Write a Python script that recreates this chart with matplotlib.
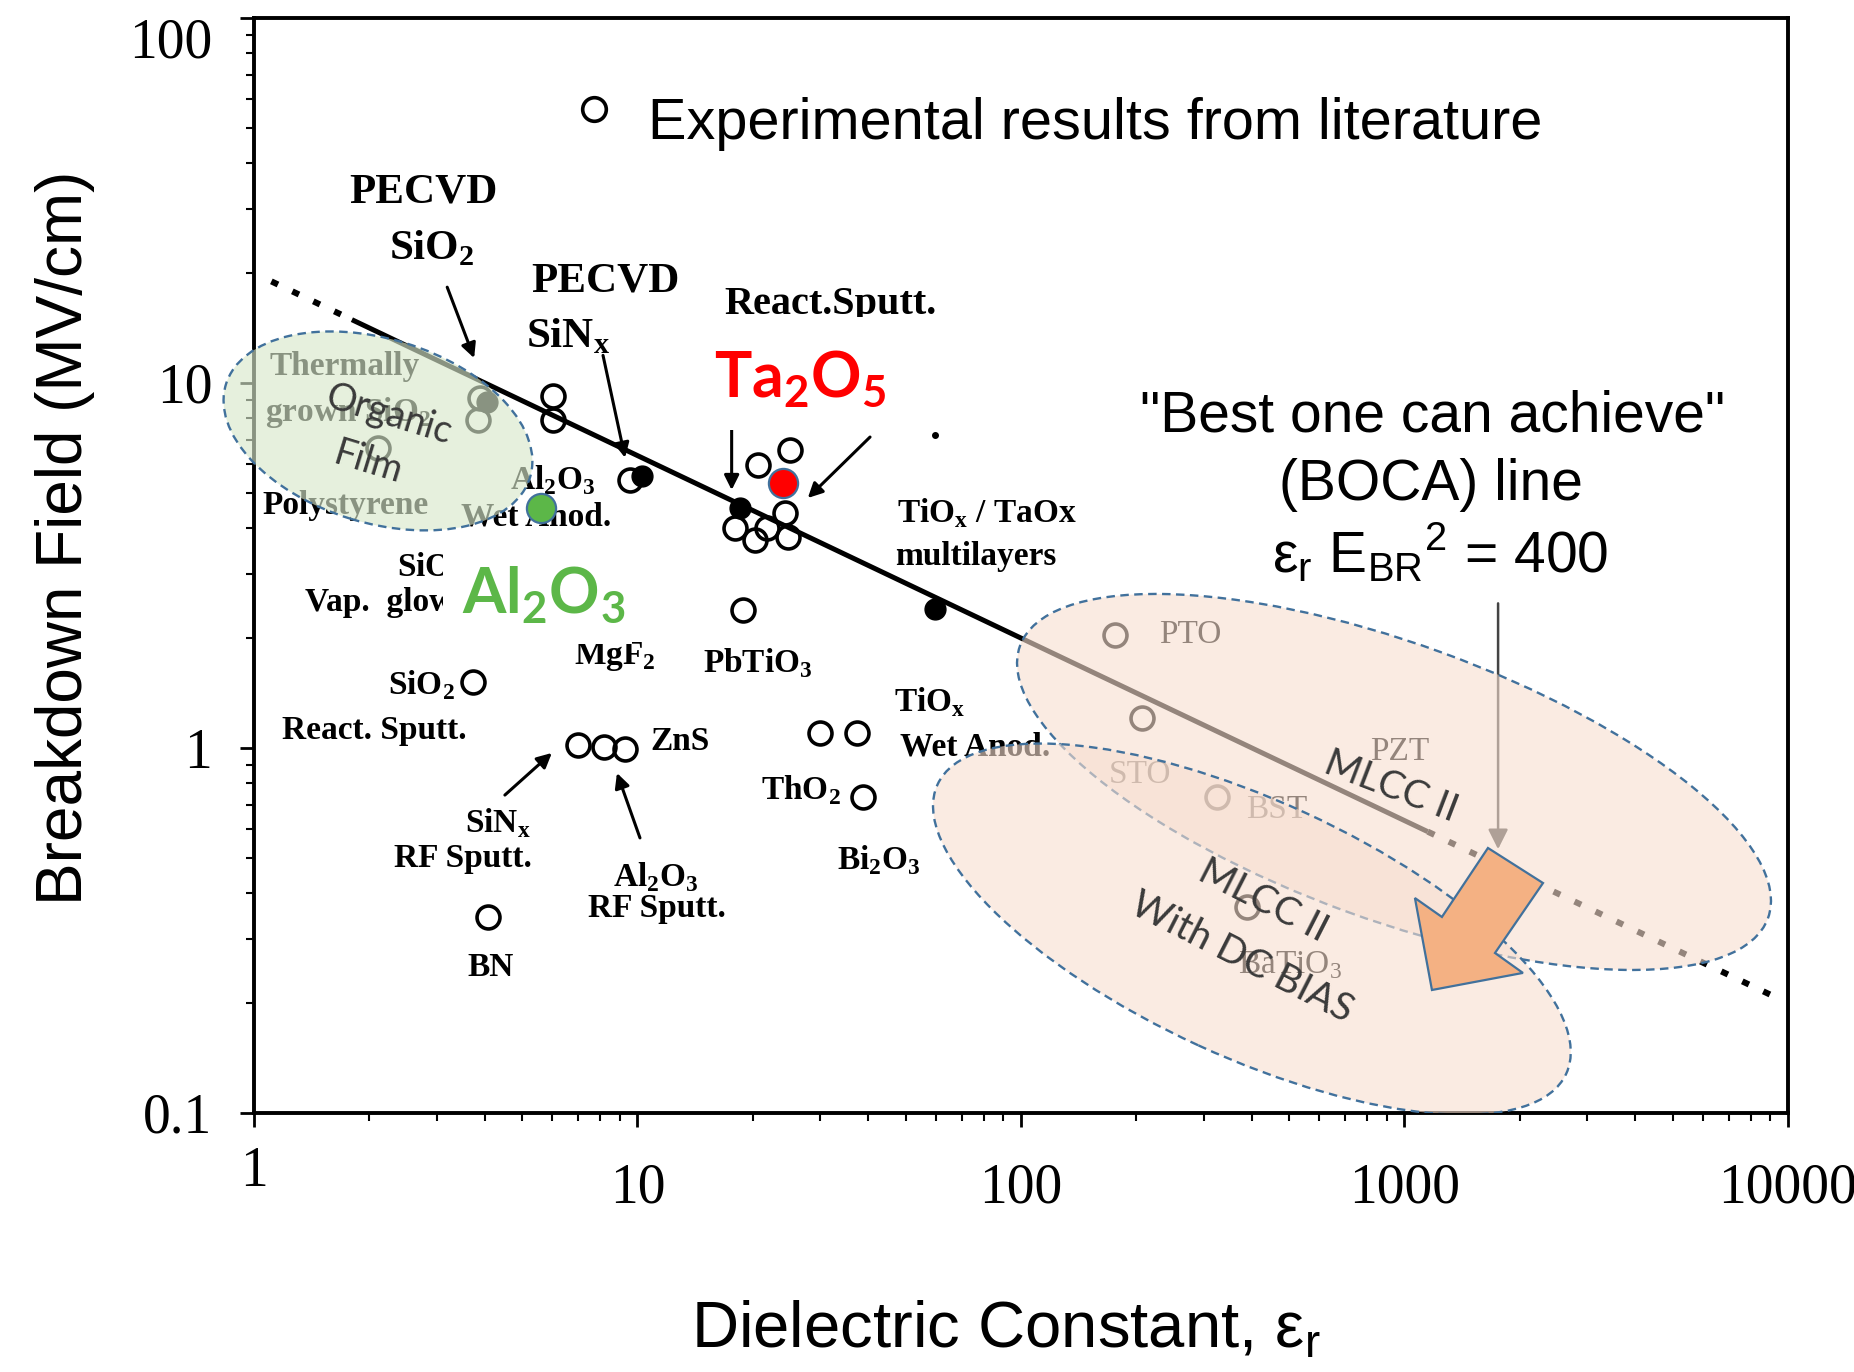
import matplotlib
matplotlib.use("Agg")
import matplotlib.pyplot as plt
from matplotlib.colors import to_rgba
from matplotlib.patches import Ellipse, Polygon, Rectangle
from matplotlib.transforms import ScaledTranslation
from matplotlib.ticker import FixedLocator, FixedFormatter, LogLocator, NullFormatter

SERIF = "Liberation Serif"
SANS = "Liberation Sans"
OFFICE = "Lato"

# ---- literature results: dielectric constant and breakdown field (MV/cm) ----
open_eps = [3.88, 3.84, 6.02, 6.02, 2.10, 9.56,
            17.96, 20.3, 21.8, 24.2, 24.7, 25.0, 20.6,
            18.8, 3.72, 7.0, 8.2, 9.3, 4.08,
            29.9, 37.4, 38.7, 176, 207, 325, 388]
open_field = [9.10, 7.92, 9.20, 7.92, 6.64, 5.42,
              4.00, 3.72, 4.00, 4.40, 3.79, 6.55, 5.96,
              2.39, 1.52, 1.02, 1.006, 0.994, 0.344,
              1.10, 1.10, 0.734, 2.04, 1.21, 0.734, 0.367]
solid_eps = [4.05, 10.3, 18.5, 59.7]
solid_field = [8.87, 5.56, 4.54, 2.40]
speck_eps = [59.7]
speck_field = [7.2]

# highlighted materials
ta2o5_eps, ta2o5_field = [23.9], [5.32]
al2o3_eps, al2o3_field = [5.6], [4.54]

# "best one can achieve" line: eps_r * E_BR^2 = 400
BOCA = 400
boca_dotted_lo = [1.11, 1.8]
boca_solid = [1.8, 1150]
boca_dotted_hi = [1150, 9100]

x_ticks = [1, 10, 100, 1000, 10000]
x_labels = ["1", "10", "100", "1000", "10000"]
y_ticks = [0.1, 1, 10, 100]
y_labels = ["0.1", "1", "10", "100"]


def boca_field(eps):
    return [(BOCA / e) ** 0.5 for e in eps]


fig = plt.figure(figsize=(18.54, 13.72), dpi=100)
ax = fig.add_axes([0.1370, 0.1888, 0.8274, 0.7981])
ax.set_xscale("log")
ax.set_yscale("log")
ax.set_xlim(1, 1e4)
ax.set_ylim(0.1, 100)

for sp in ax.spines.values():
    sp.set_linewidth(2.8)

ax.xaxis.set_major_locator(FixedLocator(x_ticks))
ax.xaxis.set_major_formatter(FixedFormatter(x_labels))
ax.yaxis.set_major_locator(FixedLocator(y_ticks))
ax.yaxis.set_major_formatter(FixedFormatter(y_labels))
for axis in (ax.xaxis, ax.yaxis):
    axis.set_minor_locator(LogLocator(base=10, subs=range(2, 10)))
    axis.set_minor_formatter(NullFormatter())
ax.tick_params(which="major", direction="out", length=10, width=2.0,
               labelsize=40, labelfontfamily=SERIF)
ax.tick_params(axis="x", which="major", pad=26)
ax.tick_params(axis="y", which="major", pad=20)
ax.tick_params(which="minor", direction="out", length=6, width=1.5)

ax.set_xlabel("Dielectric Constant, ε$_\\mathregular{r}$", fontsize=47, fontfamily=SANS)
ax.xaxis.label.set_va("center")
ax.xaxis.set_label_coords(0.490, -0.198)
ax.set_ylabel("Breakdown Field (MV/cm)", fontsize=46, fontfamily=SANS)
ax.yaxis.label.set_va("center")
ax.yaxis.set_label_coords(-0.123, 0.525)

# ---- BOCA line ----
ax.plot(boca_solid, boca_field(boca_solid), color="black", lw=3.6, zorder=3,
        solid_capstyle="butt")
for seg in (boca_dotted_lo, boca_dotted_hi):
    ax.plot(seg, boca_field(seg), color="black", lw=4.4, zorder=3,
            linestyle=(0, (1.2, 2.6)))

# ---- literature points ----
ax.plot(open_eps, open_field, linestyle="none", marker="o", ms=16.5,
        mfc="none", mec="black", mew=2.6, zorder=4)
ax.plot(solid_eps, solid_field, linestyle="none", marker="o", ms=15,
        color="black", zorder=4)
ax.plot(speck_eps, speck_field, linestyle="none", marker="o", ms=4,
        color="black", zorder=4)

# legend entry
ax.plot([0.2216], [0.9169], transform=ax.transAxes, marker="o", ms=17,
        mfc="none", mec="black", mew=2.6, zorder=4, clip_on=False)
ax.text(0.2568, 0.9032, "Experimental results from literature",
        transform=ax.transAxes, ha="left", va="center", fontsize=41.5,
        fontfamily=SANS, zorder=4)

# ---- material labels ----
BIG, MID = 31, 24
labels = [
    ("PECVD", 2.76, 33.2, BIG, "bold"),
    ("SiO$_\\mathregular{2}$", 2.91, 23.4, BIG, "bold"),
    ("PECVD", 8.23, 19.0, BIG, "bold"),
    ("SiN$_\\mathregular{x}$", 6.59, 13.4, BIG, "bold"),
    ("React.Sputt.", 31.8, 16.4, 29, "bold"),
    ("Al$_\\mathregular{2}$O$_\\mathregular{3}$", 6.02, 5.42, MID, "bold"),
    ("Wet Anod.", 5.44, 4.30, MID, "bold"),
    ("MgF$_\\mathregular{2}$", 8.74, 1.776, MID, "bold"),
    ("PbTiO$_\\mathregular{3}$", 20.6, 1.71, MID, "bold"),
    ("React. Sputt.", 2.06, 1.12, MID, "bold"),
    ("SiN$_\\mathregular{x}$", 4.33, 0.623, MID, "bold"),
    ("RF Sputt.", 3.51, 0.4995, MID, "bold"),
    ("Al$_\\mathregular{2}$O$_\\mathregular{3}$", 11.17, 0.443, MID, "bold"),
    ("RF Sputt.", 11.24, 0.364, MID, "bold"),
    ("BN", 4.13, 0.2496, MID, "bold"),
    ("TiO$_\\mathregular{x}$ / TaOx", 81.5, 4.40, MID, "bold"),
    ("multilayers", 76.3, 3.34, MID, "bold"),
    ("TiO$_\\mathregular{x}$", 57.9, 1.337, MID, "bold"),
    ("Wet Anod.", 75.9, 1.006, MID, "bold"),
    ("ThO$_\\mathregular{2}$", 26.7, 0.767, MID, "bold"),
    ("Bi$_\\mathregular{2}$O$_\\mathregular{3}$", 42.6, 0.493, MID, "bold"),
    ("PTO", 275.9, 2.04, MID, "normal"),
    ("STO", 204.3, 0.843, MID, "normal"),
    ("BST", 465, 0.676, MID, "normal"),
    ("PZT", 973, 0.975, MID, "normal"),
    ("BaTiO$_\\mathregular{3}$", 503, 0.254, MID, "normal"),
]
for txt, ex, ey, fs, wt in labels:
    ax.text(ex, ey, txt, ha="center", va="center", fontsize=fs,
            fontweight=wt, fontfamily=SERIF, zorder=4)

left_labels = [
    ("Thermally", 1.10, 11.1),
    ("grown SiO$_\\mathregular{2}$", 1.068, 8.28),
    ("Polystyrene", 1.049, 4.63),
    ("SiO$_\\mathregular{2}$", 2.36, 3.13),
    ("Vap.  glow", 1.36, 2.51),
    ("ZnS", 10.78, 1.04),
]
for txt, ex, ey in left_labels:
    ax.text(ex, ey, txt, ha="left", va="center", fontsize=MID,
            fontweight="bold", fontfamily=SERIF, zorder=4)
ax.text(3.34, 1.488, "SiO$_\\mathregular{2}$", ha="right", va="center",
        fontsize=MID, fontweight="bold", fontfamily=SERIF, zorder=4)

# pointer arrows (tail -> head)
arrows = [
    ((3.19, 18.3), (3.75, 11.7)),
    ((8.13, 11.9), (9.28, 6.24)),
    ((17.6, 7.54), (17.6, 5.09)),
    ((40.4, 7.11), (27.8, 4.84)),
    ((4.51, 0.743), (5.98, 0.969)),
    ((10.15, 0.567), (8.84, 0.854)),
]
for tail, head in arrows:
    ax.annotate("", xy=head, xytext=tail, zorder=4,
                arrowprops=dict(arrowstyle="-|>", color="black", lw=2.2,
                                mutation_scale=22, shrinkA=0, shrinkB=0))

# BOCA annotation
ax.text(0.7686, 0.6365, "\"Best one can achieve\"", transform=ax.transAxes,
        ha="center", va="center", fontsize=41, fontfamily=SANS, zorder=4)
ax.text(0.7673, 0.5735, "(BOCA) line", transform=ax.transAxes,
        ha="center", va="center", fontsize=41, fontfamily=SANS, zorder=4)
ax.text(0.7731, 0.5114,
        "ε$_\\mathregular{r}$ E$_\\mathregular{BR}{}^\\mathregular{2}$ = 400",
        transform=ax.transAxes, ha="center", va="center", fontsize=41,
        fontfamily=SANS, zorder=4)
ax.annotate("", xy=(1754, 0.528), xytext=(1754, 2.49), zorder=4,
            arrowprops=dict(arrowstyle="-|>", color="#444444", lw=1.8,
                            mutation_scale=30, shrinkA=0, shrinkB=0))

# ---- white panels behind the highlight labels ----
for x0, y0, x1, y1 in [(0.1232, 0.4283, 0.2464, 0.5297),
                       (0.2992, 0.6237, 0.4570, 0.7269)]:
    ax.add_patch(Rectangle((x0, y0), x1 - x0, y1 - y0, transform=ax.transAxes,
                           facecolor="white", edgecolor="none", zorder=5))

# ---- shaded regions ----
EDGE = "#41719C"


def region(ex, ey, w_px, h_px, angle, face, alpha, z, clip=True):
    tr = fig.dpi_scale_trans + ScaledTranslation(ex, ey, ax.transData)
    ax.add_patch(Ellipse((0, 0), w_px / fig.dpi, h_px / fig.dpi, angle=angle,
                         transform=tr, facecolor=to_rgba(face, alpha),
                         edgecolor=EDGE, lw=1.7, linestyle=(0, (3.6, 2.3)),
                         zorder=z, clip_on=clip))


region(2.105, 7.39, 318, 184, -17, "#D8E8CB", 0.64, 6, clip=False)
region(939, 0.807, 796, 276, -20, "#F8DFD0", 0.6, 6)
region(400, 0.319, 692, 256, -24.7, "#F8DFD0", 0.6, 7)

# block arrow toward lower field under DC bias
arrow_pts = [(0.8044, 0.2420), (0.8403, 0.2100), (0.8090, 0.1461),
             (0.8272, 0.1279), (0.7679, 0.1123), (0.7568, 0.1963),
             (0.7744, 0.1790)]
ax.add_patch(Polygon(arrow_pts, closed=True, transform=ax.transAxes,
                     facecolor="#F4B183", edgecolor=EDGE, lw=1.6, zorder=8))

TXT = "#3A3A3A"
ax.text(0.0875, 0.6380, "Organic", transform=ax.transAxes, rotation=-17,
        ha="center", va="center", fontsize=27, fontfamily=OFFICE, color=TXT,
        rotation_mode="anchor", zorder=9)
ax.text(0.0745, 0.5935, "Film", transform=ax.transAxes, rotation=-17,
        ha="center", va="center", fontsize=27, fontfamily=OFFICE, color=TXT,
        rotation_mode="anchor", zorder=9)
ax.text(0.7415, 0.2977, "MLCC II", transform=ax.transAxes, rotation=-21,
        ha="center", va="center", fontsize=28, fontfamily=OFFICE, color=TXT,
        rotation_mode="anchor", zorder=9)
ax.text(0.6580, 0.1936, "MLCC II", transform=ax.transAxes, rotation=-27,
        ha="center", va="center", fontsize=28, fontfamily=OFFICE, color=TXT,
        rotation_mode="anchor", zorder=9)
ax.text(0.6440, 0.1416, "With DC BIAS", transform=ax.transAxes, rotation=-27,
        ha="center", va="center", fontsize=28, fontfamily=OFFICE, color=TXT,
        rotation_mode="anchor", zorder=9)

# ---- highlighted materials ----
ax.plot(ta2o5_eps, ta2o5_field, linestyle="none", marker="o", ms=21,
        mfc="#FF0000", mec=EDGE, mew=1.6, zorder=10)
ax.plot(al2o3_eps, al2o3_field, linestyle="none", marker="o", ms=21,
        mfc="#5CB748", mec=EDGE, mew=1.6, zorder=10)
ax.text(0.3559, 0.6539, "Ta$_\\mathregular{2}$O$_\\mathregular{5}$",
        transform=ax.transAxes, ha="center", va="baseline", fontsize=45,
        fontweight="bold", fontfamily=OFFICE, color="#FF0000", zorder=10)
ax.text(0.1890, 0.4566, "Al$_\\mathregular{2}$O$_\\mathregular{3}$",
        transform=ax.transAxes, ha="center", va="baseline", fontsize=45,
        fontweight="bold", fontfamily=OFFICE, color="#5CB748", zorder=10)

# nudge the end tick labels the way they sit on the printed axes
fig.canvas.draw()
top_y = ax.yaxis.get_major_ticks()[-1].label1
top_y.set_transform(top_y.get_transform()
                    + ScaledTranslation(0, -0.20, fig.dpi_scale_trans))
first_x = ax.xaxis.get_major_ticks()[0].label1
first_x.set_transform(first_x.get_transform()
                      + ScaledTranslation(0, 0.17, fig.dpi_scale_trans))

fig.savefig("out.png", dpi=100)
